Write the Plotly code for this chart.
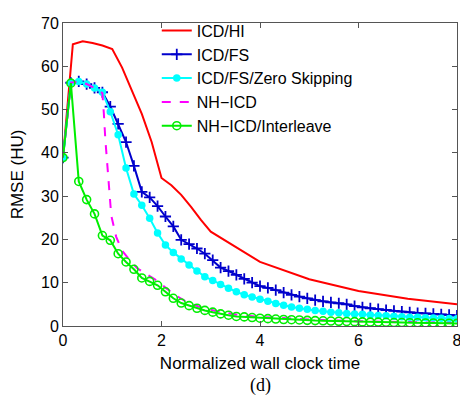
import plotly.graph_objects as go

# ---- data ----
t_grid = [round(k * 0.16, 2) for k in range(51)]

t_hi = [0, 0.2, 0.4, 0.6, 0.8, 1.0, 1.2, 1.4, 1.6, 1.8, 2.0, 2.2, 2.4, 2.6, 2.8, 3, 4, 5, 6, 7, 8]
icd_hi = [38.9, 65.1, 65.8, 65.4, 64.8, 64.0, 59.7, 54.5, 49.0, 42.5, 34.2, 32.5, 30.3, 27.5, 24.5,
          21.8, 14.8, 10.8, 8.1, 6.3, 5.0]

icd_fs = [38.9, 56.2, 56.5, 55.9, 55.0, 54.0, 50.7, 46.7, 42.5, 37.0, 31.0, 29.7, 27.7, 25.3, 23.0,
          19.9, 18.9, 17.9, 16.7, 15.2, 13.5, 12.7, 11.8, 10.9, 10.0, 9.2, 8.8, 8.3, 7.7, 7.2,
          6.8, 6.4, 6.0, 5.7, 5.45, 5.25, 5.0, 4.6, 4.3, 4.1, 3.9, 3.7, 3.5, 3.3, 3.15,
          3.0, 2.9, 2.8, 2.7, 2.55, 2.4]

icd_fs_zs = [38.9, 56.2, 56.5, 55.9, 55.0, 54.0, 49.5, 44.2, 36.5, 30.5, 27.9, 24.9, 21.5, 18.7, 17.0,
             15.5, 14.1, 12.7, 11.4, 10.5, 9.6, 8.7, 7.9, 7.2, 6.7, 6.2, 5.7, 5.2, 4.8, 4.4,
             4.1, 3.85, 3.6, 3.4, 3.2, 3.05, 2.9, 2.8, 2.7, 2.55, 2.45, 2.35, 2.25, 2.15, 2.05,
             2.0, 1.9, 1.85, 1.8, 1.75, 1.7]

t_nh = [0, 0.16, 0.32, 0.48, 0.64, 0.8, 0.83, 0.86, 0.92, 0.98, 1.08, 1.2, 1.35, 1.5, 1.72, 1.93,
        2.1, 2.3, 2.5, 2.8, 3.2, 3.6, 4, 5, 6, 7, 8]
nh_icd = [38.9, 56.2, 56.5, 55.9, 55.0, 53.8, 49.0, 43.0, 34.3, 25.5, 20.6, 17.4, 15.3, 13.4, 11.8, 10.3,
          8.7, 7.0, 5.6, 4.3, 3.2, 2.5, 2.1, 1.5, 1.1, 0.85, 0.7]

nh_icd_il = [38.9, 56.1, 33.4, 29.2, 25.9, 20.9, 19.8, 16.7, 14.8, 13.1, 11.1, 10.3, 9.4, 7.9, 6.4,
             5.3, 4.7, 4.1, 3.6, 3.2, 2.8, 2.5, 2.2, 2.1, 1.95, 1.8, 1.7, 1.6, 1.5, 1.45,
             1.4, 1.3, 1.25, 1.2, 1.15, 1.1, 1.05, 1.0, 0.95, 0.9, 0.9, 0.85, 0.8, 0.8, 0.75,
             0.75, 0.7, 0.7, 0.65, 0.65, 0.6]

x_ticks = [0, 2, 4, 6, 8]
y_ticks = [0, 10, 20, 30, 40, 50, 60, 70]

FONT = "Liberation Sans, Arial, sans-serif"

fig = go.Figure()
fig.add_trace(go.Scatter(x=t_hi, y=icd_hi, mode="lines", name="ICD/HI",
                         line=dict(color="#ff0000", width=2)))
fig.add_trace(go.Scatter(x=t_grid, y=icd_fs, mode="lines+markers", name="ICD/FS",
                         line=dict(color="#0000cc", width=2),
                         marker=dict(symbol="cross-thin", size=8, color="#0000cc",
                                     line=dict(color="#0000cc", width=1.8))))
fig.add_trace(go.Scatter(x=t_grid, y=icd_fs_zs, mode="lines+markers", name="ICD/FS/Zero Skipping",
                         line=dict(color="#00ffff", width=2),
                         marker=dict(symbol="circle", size=7.5, color="#00ffff")))
fig.add_trace(go.Scatter(x=t_nh, y=nh_icd, mode="lines", name="NH\u2212ICD",
                         line=dict(color="#ff00ff", width=2, dash="dash")))
fig.add_trace(go.Scatter(x=t_grid, y=nh_icd_il, mode="lines+markers", name="NH\u2212ICD/Interleave",
                         line=dict(color="#00ee00", width=2),
                         marker=dict(symbol="circle-open", size=8, color="#00ee00",
                                     line=dict(color="#00ee00", width=1.6))))

axis_common = dict(showline=True, linecolor="#555555", linewidth=1, mirror="ticks",
                   ticks="inside", ticklen=5, tickcolor="#555555", showgrid=False,
                   zeroline=False, tickfont=dict(family=FONT, size=16, color="#000"))

fig.update_xaxes(range=[0, 8], tickvals=x_ticks, ticktext=[str(v) for v in x_ticks],
                 title=dict(text="Normalized wall clock time", font=dict(family=FONT, size=17, color="#000"),
                            standoff=8),
                 **axis_common)
fig.update_yaxes(range=[0, 70], tickvals=y_ticks, ticktext=[str(v) for v in y_ticks],
                 title=dict(text="RMSE (HU)", font=dict(family=FONT, size=17, color="#000"),
                            standoff=13),
                 **axis_common)

fig.add_annotation(text="(d)", xref="paper", yref="paper", x=0.5, y=-0.198,
                   showarrow=False, yanchor="middle",
                   font=dict(family="Liberation Serif, Times New Roman, serif", size=18, color="#000"))

# page body adds an 8px offset; size the figure so the plot area lands where the reference has it
fig.update_layout(
    width=460, height=388,
    margin=dict(l=55, r=9, t=6, b=70),
    paper_bgcolor="white", plot_bgcolor="white",
    showlegend=True,
    legend=dict(x=0.238, y=1.031, xanchor="left", yanchor="top",
                bgcolor="rgba(0,0,0,0)", borderwidth=0,
                font=dict(family=FONT, size=16, color="#000"),
                tracegroupgap=0),
)

fig.write_html("out.html")
